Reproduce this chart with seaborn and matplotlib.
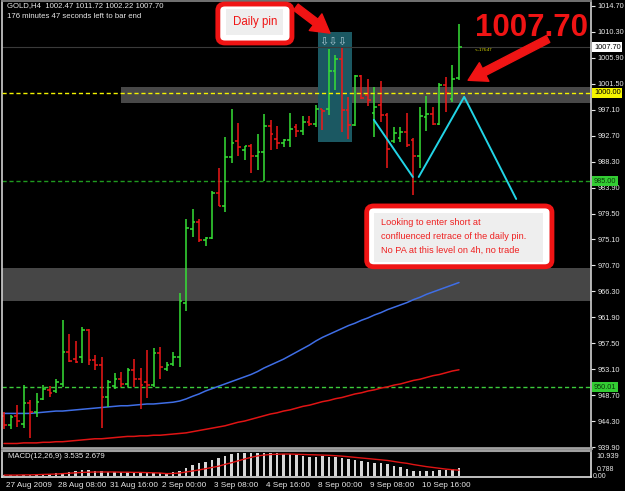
import numpy as np
import pandas as pd
import matplotlib
matplotlib.use("Agg")
import matplotlib.pyplot as plt
import seaborn as sns
from matplotlib.patches import Rectangle, FancyBboxPatch

# ==============================
# DATA (GOLD, H4 bars)
# ==============================
opens = [945.2, 943.6, 945.2, 943.8, 947.3, 945.9, 948.0, 949.6, 949.4, 950.6,
         956.1, 954.9, 955.2, 959.8, 954.7, 953.8, 948.3, 950.2, 951.5, 950.6,
         953.0, 951.5, 951.0, 950.4, 955.9, 953.2, 953.9, 955.1, 964.3, 976.9,
         978.1, 975.0, 975.3, 982.9, 980.8, 989.1, 991.8, 990.2, 990.9, 989.3,
         989.9, 994.4, 992.2, 991.4, 992.0, 994.2, 993.5, 995.0, 994.6, 997.2,
         997.2, 1003.6, 1005.7, 997.1, 994.5, 1002.9, 999.6, 996.5, 997.9, 996.2,
         991.8, 992.3, 993.4, 992.0, 989.3, 995.9, 996.3, 994.7, 1001.3, 999.0,
         1002.47]
highs = [945.9, 945.3, 947.0, 950.5, 947.9, 949.0, 950.5, 950.3, 951.4, 961.5,
         959.0, 957.8, 960.2, 959.9, 955.5, 955.1, 951.3, 952.4, 952.7, 953.3,
         954.8, 953.3, 956.3, 956.7, 956.9, 954.4, 956.1, 966.1, 978.5, 980.3,
         978.5, 975.6, 983.3, 987.3, 992.5, 997.3, 994.8, 990.9, 991.3, 993.0,
         996.4, 995.4, 994.3, 992.1, 996.5, 994.7, 996.0, 996.0, 997.9, 997.2,
         1007.4, 1006.4, 1007.5, 999.3, 1003.0, 1003.0, 1002.4, 1001.0, 1002.0, 996.5,
         994.2, 994.2, 996.5, 992.3, 997.6, 999.5, 997.6, 1001.7, 1002.7, 1004.7,
         1011.72]
lows = [942.9, 942.9, 943.3, 943.1, 941.4, 945.0, 947.9, 948.4, 949.1, 950.0,
        954.4, 954.1, 954.1, 953.8, 953.0, 943.2, 946.7, 949.8, 950.1, 950.1,
        950.1, 946.3, 948.2, 950.1, 951.4, 952.8, 953.6, 953.5, 963.0, 975.6,
        974.6, 974.0, 975.1, 980.7, 979.8, 988.0, 989.3, 988.5, 986.4, 986.8,
        985.1, 990.3, 990.4, 990.7, 990.7, 992.4, 992.8, 994.4, 994.1, 993.7,
        996.2, 1000.5, 993.4, 992.1, 994.4, 998.9, 997.8, 992.5, 995.1, 987.2,
        991.4, 991.7, 990.8, 982.7, 987.2, 993.5, 994.5, 994.5, 996.8, 998.5,
        1002.22]
closes = [943.6, 945.0, 944.3, 947.3, 945.9, 947.5, 949.7, 949.0, 951.0, 956.1,
          954.5, 954.3, 959.8, 954.7, 953.8, 948.3, 950.9, 951.5, 950.6, 953.0,
          951.5, 950.4, 950.4, 955.9, 953.4, 953.8, 955.1, 964.7, 977.0, 978.1,
          975.0, 975.3, 982.9, 980.8, 989.1, 991.4, 990.8, 990.9, 989.3, 989.9,
          994.4, 993.0, 991.4, 992.0, 993.8, 993.5, 995.0, 994.6, 997.2, 996.9,
          1003.6, 1005.7, 997.1, 994.5, 1002.9, 999.1, 998.8, 997.6, 996.2, 990.5,
          993.1, 993.4, 991.2, 989.3, 996.0, 996.3, 994.7, 1001.3, 1000.0, 1002.4,
          1007.70]
ma_fast = [945.6, 945.6, 945.6, 945.6, 945.6, 945.7, 945.8, 945.9, 946.0, 946.0,
           946.1, 946.2, 946.3, 946.4, 946.5, 946.6, 946.7, 946.8, 946.9, 946.9,
           947.0, 947.1, 947.2, 947.2, 947.3, 947.4, 947.5, 947.7, 948.05, 948.5,
           948.9, 949.4, 949.8, 950.2, 950.6, 951.0, 951.4, 951.8, 952.2, 952.7,
           953.3, 953.8, 954.3, 954.8, 955.4, 956.0, 956.6, 957.2, 957.9, 958.5,
           959.0, 959.5, 960.0, 960.5, 960.9, 961.4, 961.8, 962.3, 962.7, 963.2,
           963.6, 964.0, 964.4, 964.9, 965.3, 965.8, 966.2, 966.6, 967.0, 967.4,
           967.8]
ma_slow = [940.5, 940.5, 940.5, 940.6, 940.6, 940.6, 940.7, 940.7, 940.8, 940.8,
           940.9, 941.0, 941.1, 941.2, 941.3, 941.3, 941.4, 941.5, 941.6, 941.7,
           941.7, 941.8, 941.8, 941.9, 941.9, 942.0, 942.1, 942.2, 942.3, 942.5,
           942.7, 942.9, 943.1, 943.3, 943.5, 943.8, 944.1, 944.3, 944.6, 944.9,
           945.2, 945.5, 945.7, 946.0, 946.2, 946.5, 946.8, 947.0, 947.3, 947.6,
           947.8, 948.1, 948.3, 948.6, 948.9, 949.1, 949.4, 949.6, 949.9, 950.1,
           950.4, 950.6, 950.9, 951.2, 951.4, 951.7, 952.0, 952.2, 952.5, 952.8,
           953.0]
macd_hist = [0.5, 0.5, 0.3, 0.3, 0.3, 0.5, 0.6, 0.8, 1.1, 1.5,
             1.8, 2.3, 2.8, 2.8, 2.3, 2.3, 1.9, 1.9, 1.8, 1.6,
             1.6, 1.5, 1.5, 1.1, 1.1, 1.1, 1.6, 2.3, 3.9, 5.2,
             6.0, 6.6, 7.6, 8.4, 9.5, 10.4, 10.8, 10.939, 10.9, 10.8,
             10.8, 10.8, 10.8, 10.5, 10.4, 10.0, 9.7, 9.2, 8.9, 9.4,
             9.2, 8.9, 8.4, 7.9, 7.6, 7.3, 6.8, 6.3, 6.0, 5.5,
             4.7, 4.0, 3.4, 2.4, 2.4, 2.4, 2.4, 2.8, 2.8, 3.1,
             3.535]
macd_signal = [0.3, 0.3, 0.3, 0.4, 0.4, 0.5, 0.6, 0.7, 0.8, 1.0,
               1.2, 1.4, 1.6, 1.7, 1.8, 1.8, 1.8, 1.8, 1.7, 1.7,
               1.6, 1.6, 1.5, 1.4, 1.3, 1.0, 1.1, 1.3, 1.8, 2.3,
               2.8, 3.4, 4.0, 4.6, 5.5, 6.3, 7.2, 8.1, 8.9, 9.6,
               10.0, 10.3, 10.4, 10.5, 10.5, 10.4, 10.3, 10.2, 10.1, 10.0,
               9.9, 9.7, 9.5, 9.2, 8.9, 8.6, 8.3, 8.0, 7.7, 7.4,
               6.9, 6.4, 6.0, 5.4, 4.9, 4.4, 4.0, 3.6, 3.2, 2.9,
               2.679]

date_ticks = [0, 8, 16, 24, 32, 40, 48, 56, 64]
date_labels = ["27 Aug 2009", "28 Aug 08:00", "31 Aug 16:00", "2 Sep 00:00",
               "3 Sep 08:00", "4 Sep 16:00", "8 Sep 00:00", "9 Sep 08:00",
               "10 Sep 16:00"]
price_ticks = [939.90, 944.30, 948.70, 953.10, 957.50, 961.90, 966.30, 970.70,
               975.10, 979.50, 983.90, 988.30, 992.70, 997.10, 1001.50, 1005.90,
               1010.30, 1014.70]

# levels / zones drawn on the chart
resistance = 1000.00
support_1 = 985.00
support_2 = 950.01
upper_zone = (998.25, 1000.96)
lower_zone = (964.67, 970.31)
pin_box = (48.3, 53.5, 991.63, 1010.29)
zigzag_a = ([56.9, 62.9], [995.4, 985.7])
zigzag_b = ([63.8, 70.8, 78.8], [985.7, 999.3, 981.97])

df = pd.DataFrame({"bar": np.arange(len(opens)), "open": opens, "high": highs,
                   "low": lows, "close": closes, "ma_fast": ma_fast,
                   "ma_slow": ma_slow, "hist": macd_hist, "signal": macd_signal})
df["up"] = df["close"] >= df["open"]

# ==============================
# STYLE
# ==============================
sns.set_theme(style="dark", rc={"axes.facecolor": "black",
                                "figure.facecolor": "black",
                                "axes.grid": False})
plt.rcParams["font.family"] = ["Liberation Sans", "DejaVu Sans"]

UP, DOWN = "#36e036", "#f01818"
FG = "#e8e8e8"

fig = plt.figure(figsize=(6.25, 4.91), dpi=100)
ax = fig.add_axes([0.0032, 0.08656, 0.9424, 0.91242])
axm = fig.add_axes([0.0032, 0.02912, 0.9424, 0.05336])
XMIN, XMAX = -0.31, 90.31

# ==============================
# MAIN PRICE PANEL
# ==============================
ax.axhspan(*lower_zone, color="#464646", lw=0, zorder=0)
ax.add_patch(Rectangle((18.0, upper_zone[0]), XMAX - 18.0, upper_zone[1] - upper_zone[0],
                       color="#484848", lw=0, zorder=0))
ax.add_patch(Rectangle((pin_box[0], pin_box[2]), pin_box[1] - pin_box[0],
                       pin_box[3] - pin_box[2], color="#1b5862", lw=0, zorder=0.5))

ax.axhline(closes[-1], color="#3a3a3a", lw=0.8, zorder=0.6)
ax.axhline(resistance, color="#f2f200", lw=1, ls=(0, (3, 2)), zorder=3)
ax.axhline(support_1, color="#1f9a1f", lw=1, ls=(0, (3, 2)), zorder=1)
ax.axhline(support_2, color="#3ccc3c", lw=1, ls=(0, (3, 2)), zorder=1)

sns.lineplot(data=df, x="bar", y="ma_fast", color="#3f6ee6", lw=1.1, ax=ax, zorder=1)
sns.lineplot(data=df, x="bar", y="ma_slow", color="#e01414", lw=1.1, ax=ax, zorder=1)

colors = np.where(df["up"], UP, DOWN)
ax.vlines(df["bar"], df["low"], df["high"], colors=colors, lw=1.1, zorder=2)
ax.hlines(df["open"], df["bar"] - 0.4, df["bar"], colors=colors, lw=1.1, zorder=2)
ax.hlines(df["close"], df["bar"], df["bar"] + 0.4, colors=colors, lw=1.1, zorder=2)

ax.plot(*zigzag_a, color="#22d4e6", lw=1.4, zorder=4)
ax.plot(*zigzag_b, color="#22d4e6", lw=1.4, zorder=4)

ax.text(50.6, 1008.7, "\u21e9\u21e9\u21e9", color="#a8c4d0", fontsize=8,
        ha="center", va="center", family="DejaVu Sans", zorder=3)
ax.text(72.5, 1007.3, "<--176:47", color="#e8e800", fontsize=3, va="center", zorder=5)

# annotations
red = "#f01414"
arrow = "simple,head_length=1.3,head_width=1.5,tail_width=0.55"
ax.annotate("", xy=(50.15, 1010.1), xytext=(44.9, 1014.5),
            arrowprops=dict(arrowstyle=arrow, color=red, mutation_scale=10,
                            shrinkA=0, shrinkB=0), zorder=6)
ax.annotate("", xy=(71.4, 1002.1), xytext=(83.7, 1009.1),
            arrowprops=dict(arrowstyle=arrow, color=red, mutation_scale=10,
                            shrinkA=0, shrinkB=0), zorder=6)

ax.text(89.8, 1010.97, f"{closes[-1]:.2f}", color=red, fontsize=22.5,
        fontweight="bold", ha="right", va="center", zorder=6)

ax.add_patch(FancyBboxPatch((32.9, 1008.43), 11.4, 6.6,
                            boxstyle="round,pad=0,rounding_size=1.1",
                            fc="white", ec=red, lw=3.5, zorder=6))
ax.add_patch(Rectangle((34.2, 1009.78), 8.7, 4.41, fc="#eeeeee", lw=0, zorder=6.1))
ax.text(38.6, 1011.99, "Daily pin", color=red, fontsize=8.3,
        ha="center", va="center", zorder=7)

ax.add_patch(FancyBboxPatch((55.8, 970.48), 28.5, 10.3,
                            boxstyle="round,pad=0,rounding_size=1.1",
                            fc="white", ec=red, lw=3.5, zorder=6))
ax.add_patch(Rectangle((57.0, 971.3), 26.0, 8.3, fc="#eeeeee", lw=0, zorder=6.1))
for yy, line in zip([977.9, 975.6, 973.3],
                    ["Looking to enter short at",
                     "confluenced retrace of the daily pin.",
                     "No PA at this level on 4h, no trade"]):
    ax.text(57.95, yy, line, color="#ee2020", fontsize=6.6, va="center", zorder=7)

ax.set_xlim(XMIN, XMAX)
ax.set_ylim(939.65, 1015.63)
ax.set_xlabel("")
ax.set_ylabel("")
ax.set_xticks([])
ax.yaxis.tick_right()
ax.set_yticks(price_ticks)
ax.set_yticklabels([f"{v:.2f}" for v in price_ticks])
ax.tick_params(axis="y", colors=FG, labelsize=5.3, length=3, width=0.8, pad=1.5)
for s in ["left", "right"]:
    ax.spines[s].set_color("#d0d0d0")
    ax.spines[s].set_linewidth(1.2)
ax.spines["top"].set_color("#808080")
ax.spines["bottom"].set_color("#a0a0a0")
ax.spines["bottom"].set_linewidth(2)

# price flags on the axis
for val, txt, fc, tc in [(closes[-1], f"{closes[-1]:.2f}", "white", "black"),
                         (resistance, f"{resistance:.2f}", "#f5f500", "black"),
                         (support_1, f"{support_1:.2f}", "#33cc33", "#0a3a0a"),
                         (support_2, f"{support_2:.2f}", "#33cc33", "#0a3a0a")]:
    ax.text(1.005, val, txt, transform=ax.get_yaxis_transform(), color=tc,
            fontsize=5.3, va="center", ha="left", zorder=8,
            bbox=dict(boxstyle="square,pad=0.2", fc=fc, ec="none"))

fig.text(7 / 625, 1 - 6 / 491,
         f"GOLD,H4  {opens[-1]:.2f} {highs[-1]:.2f} {lows[-1]:.2f} {closes[-1]:.2f}",
         color=FG, fontsize=5.6, va="center")
fig.text(7 / 625, 1 - 17 / 491, "176 minutes 47 seconds left to bar end",
         color=FG, fontsize=5.6, va="center")

# ==============================
# MACD PANEL
# ==============================
sns.barplot(data=df, x="bar", y="hist", native_scale=True, orient="x", width=0.42,
            color="#d6d6d6", saturation=1, errorbar=None, linewidth=0, ax=axm)
sns.lineplot(data=df, x="bar", y="signal", color="#e01414", lw=1, ax=axm)
axm.set_xlim(XMIN, XMAX)
axm.set_ylim(-0.485, 12.23)
axm.set_xlabel("")
axm.set_ylabel("")
axm.set_yticks([])
axm.set_xticks(date_ticks)
axm.set_xticklabels([""] * len(date_ticks))
axm.tick_params(axis="x", colors=FG, length=3, width=0.8)
for t, lab in zip(date_ticks, date_labels):
    axm.text(t + 0.35, -0.317, lab, transform=axm.get_xaxis_transform(),
             color=FG, fontsize=5.9, va="center", ha="left")
for s in ["left", "right", "bottom"]:
    axm.spines[s].set_color("#e0e0e0")
    axm.spines[s].set_linewidth(1.2)
axm.spines["top"].set_color("#a0a0a0")
axm.spines["top"].set_linewidth(1.5)

axm.text(0.01, 0.78, f"MACD(12,26,9) {macd_hist[-1]:.3f} {macd_signal[-1]:.3f}",
         transform=axm.transAxes, color=FG, fontsize=5.6, va="center")
fig.text(596 / 625, 1 - 456 / 491, f"{max(macd_hist):.3f}", color=FG, fontsize=5.3, va="center")
fig.text(597 / 625, 1 - 469.5 / 491, "0.788", color=FG, fontsize=5.0, va="center")
fig.text(593 / 625, 1 - 477 / 491, "0.00", color=FG, fontsize=5.0, va="center")

fig.savefig("out.png", dpi=100, facecolor="black")
